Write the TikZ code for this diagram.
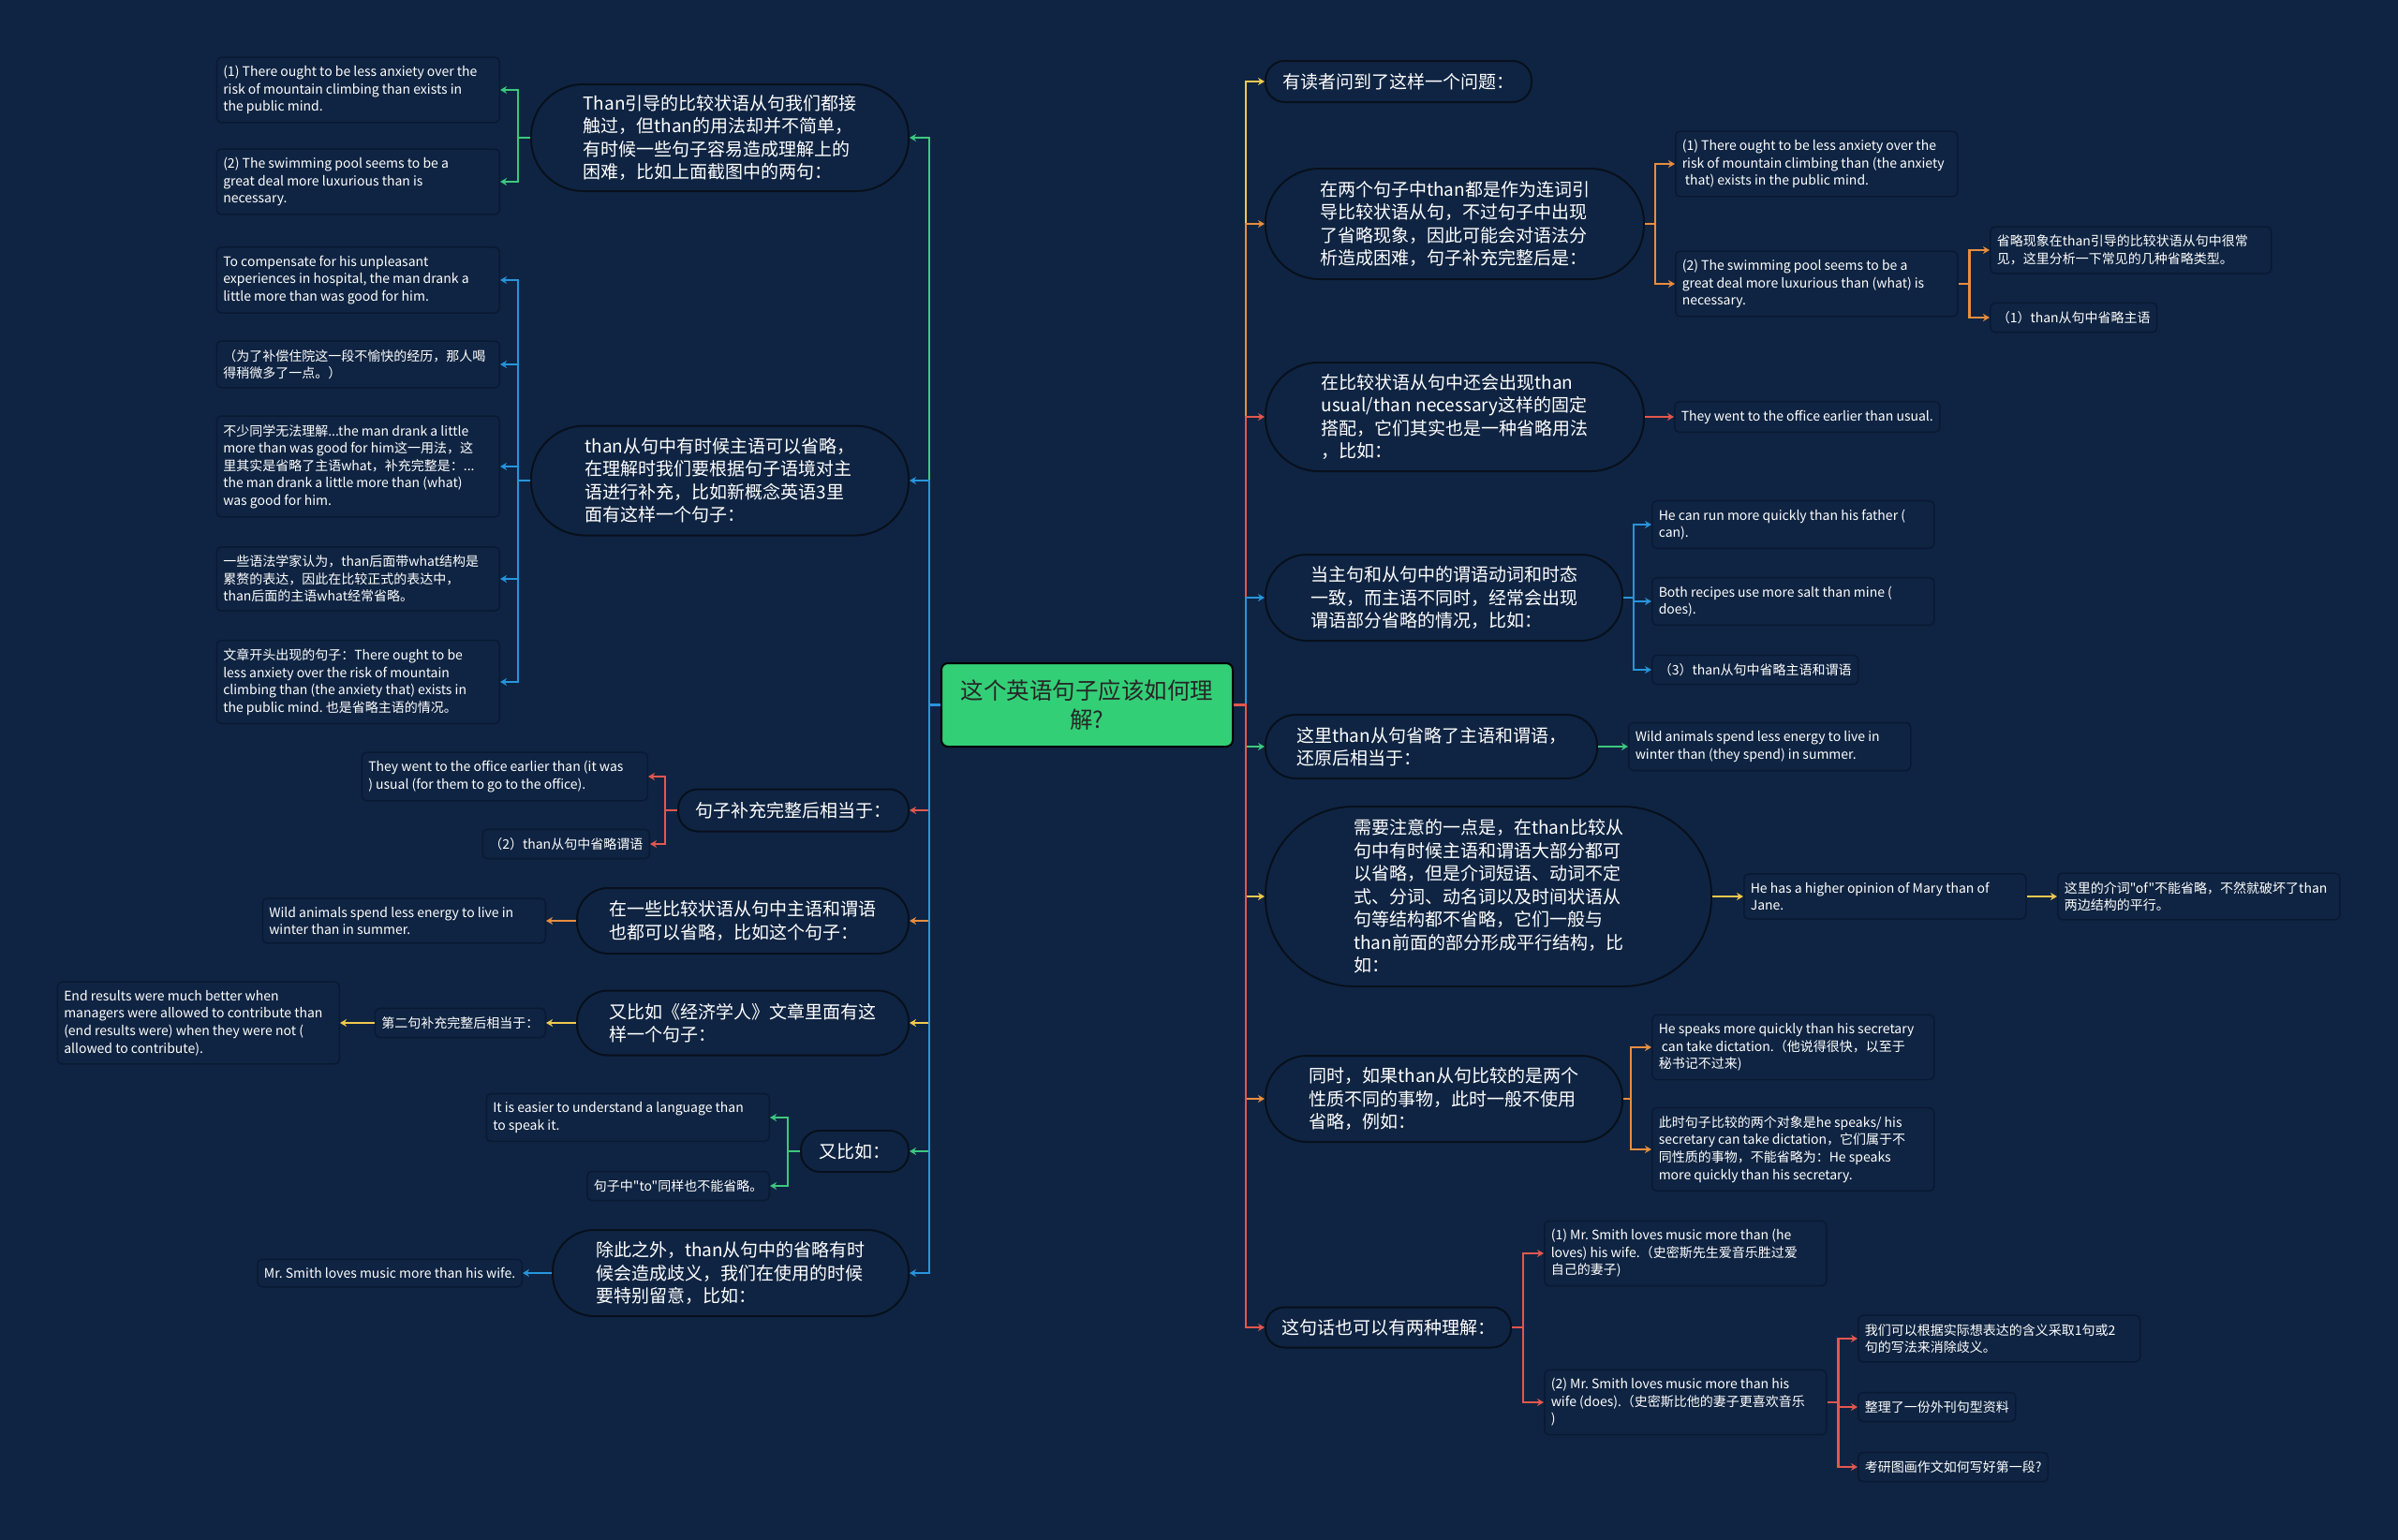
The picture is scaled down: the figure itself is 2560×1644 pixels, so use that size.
\documentclass[tikz,border=0pt]{standalone}
\usepackage{fontspec}
\newfontfamily\cjk{Noto Sans CJK SC}
\usetikzlibrary{arrows.meta}
\definecolor{bg}{HTML}{0F2442}
\definecolor{rootfill}{HTML}{33CF77}
\definecolor{cgreen}{HTML}{3CC87E}
\definecolor{cblue}{HTML}{2795DC}
\definecolor{cred}{HTML}{E5564C}
\definecolor{corange}{HTML}{E98D3E}
\definecolor{cyellow}{HTML}{F2C94C}
\definecolor{pillline}{HTML}{07101C}
\definecolor{boxline}{HTML}{081A33}

\begin{document}
\begin{tikzpicture}[x=1pt, y=-1pt,
  root/.style={draw=black, line width=2pt, fill=rootfill, rounded corners=7pt, text=black!85, font=\cjk\fontsize{24.5}{31}\selectfont, align=center, minimum width=311, minimum height=89, inner sep=0pt},
  pill/.style 2 args={draw=pillline, line width=2pt, fill=bg, text=white, font=\cjk\fontsize{19}{24.5}\selectfont, align=left, minimum width=#1, minimum height=#2, rounded corners=#2*0.5-1.5, inner sep=0pt},
  box/.style={draw=boxline, line width=1.5pt, fill=bg, text=white, font=\cjk\fontsize{14}{18.6}\selectfont\frenchspacing, align=flush left, rounded corners=5pt, inner xsep=7pt, inner ysep=9pt},
  leaf/.style={box, text width=#1},
  leaf/.default=288pt,
  link/.style={draw=#1, line width=2.4pt, -{Stealth[length=7pt,width=8pt]}}
]
\path[use as bounding box, fill=bg] (0,0) rectangle (2560,1644);

\node[root] (root) at (1160.5,752.5) {这个英语句子应该如何理\\解?};

% left side
\node[pill={403}{114}, anchor=east] (l1) at (971,147) {Than引导的比较状语从句我们都接\\触过，但than的用法却并不简单，\\有时候一些句子容易造成理解上的\\困难，比如上面截图中的两句：};
\node[leaf, anchor=east] (l1a) at (534,96) {(1) There ought to be less anxiety over the\\risk of mountain climbing than exists in\\the public mind.};
\node[leaf, anchor=east] (l1b) at (534,194) {(2) The swimming pool seems to be a\\great deal more luxurious than is\\necessary.};

\node[pill={403}{117}, anchor=east] (l2) at (971,513) {than从句中有时候主语可以省略，\\在理解时我们要根据句子语境对主\\语进行补充，比如新概念英语3里\\面有这样一个句子：};
\node[leaf, anchor=east] (l2a) at (534,299) {To compensate for his unpleasant\\experiences in hospital, the man drank a\\little more than was good for him.};
\node[leaf, anchor=east] (l2b) at (534,389) {（为了补偿住院这一段不愉快的经历，那人喝\\得稍微多了一点。）};
\node[leaf, anchor=east] (l2c) at (534,498) {不少同学无法理解...the man drank a little\\more than was good for him这一用法，这\\里其实是省略了主语what，补充完整是：...\\the man drank a little more than (what)\\was good for him.};
\node[leaf, anchor=east] (l2d) at (534,618) {一些语法学家认为，than后面带what结构是\\累赘的表达，因此在比较正式的表达中，\\than后面的主语what经常省略。};
\node[leaf, anchor=east] (l2e) at (534,728) {文章开头出现的句子：There ought to be\\less anxiety over the risk of mountain\\climbing than (the anxiety that) exists in\\the public mind. 也是省略主语的情况。};

\node[pill={246}{45}, anchor=east] (l3) at (971,865) {句子补充完整后相当于：};
\node[leaf=291pt, anchor=east] (l3a) at (692,829) {They went to the office earlier than (it was\\) usual (for them to go to the office).};
\node[box, anchor=east] (l3b) at (694,901) {（2）than从句中省略谓语};

\node[pill={354}{70}, anchor=east] (l4) at (971,983) {在一些比较状语从句中主语和谓语\\也都可以省略，比如这个句子：};
\node[leaf, anchor=east] (l4a) at (583,983) {Wild animals spend less energy to live in\\winter than in summer.};

\node[pill={354}{69}, anchor=east] (l5) at (971,1092) {又比如《经济学人》文章里面有这\\样一个句子：};
\node[box, anchor=east] (l5a) at (583,1092) {第二句补充完整后相当于：};
\node[leaf=287pt, anchor=east] (l5b) at (363,1092) {End results were much better when\\managers were allowed to contribute than\\(end results were) when they were not (\\allowed to contribute).};

\node[pill={115}{44}, anchor=east] (l6) at (971,1229) {又比如：};
\node[leaf, anchor=east] (l6a) at (822,1193) {It is easier to understand a language than\\to speak it.};
\node[box, anchor=east] (l6b) at (822,1266) {句子中"to"同样也不能省略。};

\node[pill={380}{92}, anchor=east] (l7) at (971,1359) {除此之外，than从句中的省略有时\\候会造成歧义，我们在使用的时候\\要特别留意，比如：};
\node[box, anchor=east] (l7a) at (558,1359) {Mr. Smith loves music more than his wife.};

% right side
\node[pill={284}{44}, anchor=west] (r1) at (1350,87) {有读者问到了这样一个问题：};

\node[pill={404}{118}, anchor=west] (r2) at (1350,239) {在两个句子中than都是作为连词引\\导比较状语从句，不过句子中出现\\了省略现象，因此可能会对语法分\\析造成困难，句子补充完整后是：};
\node[leaf=287pt, anchor=west] (r2a) at (1788,175) {(1) There ought to be less anxiety over the\\risk of mountain climbing than (the anxiety\\\ that) exists in the public mind.};
\node[leaf=287pt, anchor=west] (r2b) at (1788,303) {(2) The swimming pool seems to be a\\great deal more luxurious than (what) is\\necessary.};
\node[leaf=286pt, anchor=west] (r2b1) at (2124,267) {省略现象在than引导的比较状语从句中很常\\见，这里分析一下常见的几种省略类型。};
\node[box, anchor=west] (r2b2) at (2124,339) {（1）than从句中省略主语};

\node[pill={404}{116}, anchor=west] (r3) at (1350,445) {在比较状语从句中还会出现than\\usual/than necessary这样的固定\\搭配，它们其实也是一种省略用法\\，比如：};
\node[box, anchor=west] (r3a) at (1787,445) {They went to the office earlier than usual.};

\node[pill={381}{92}, anchor=west] (r4) at (1350,638) {当主句和从句中的谓语动词和时态\\一致，而主语不同时，经常会出现\\谓语部分省略的情况，比如：};
\node[leaf=287pt, anchor=west] (r4a) at (1763,560) {He can run more quickly than his father (\\can).};
\node[leaf=287pt, anchor=west] (r4b) at (1763,642) {Both recipes use more salt than mine (\\does).};
\node[box, anchor=west] (r4c) at (1763,715) {（3）than从句中省略主语和谓语};

\node[pill={354}{68}, anchor=west] (r5) at (1350,797) {这里than从句省略了主语和谓语，\\还原后相当于：};
\node[leaf=287pt, anchor=west] (r5a) at (1738,797) {Wild animals spend less energy to live in\\winter than (they spend) in summer.};

\node[pill={476}{192}, anchor=west] (r6) at (1350,957) {需要注意的一点是，在than比较从\\句中有时候主语和谓语大部分都可\\以省略，但是介词短语、动词不定\\式、分词、动名词以及时间状语从\\句等结构都不省略，它们一般与\\than前面的部分形成平行结构，比\\如：};
\node[leaf=287pt, anchor=west] (r6a) at (1861,957) {He has a higher opinion of Mary than of\\Jane.};
\node[leaf=287pt, anchor=west] (r6b) at (2196,957) {这里的介词"of"不能省略，不然就破坏了than\\两边结构的平行。};

\node[pill={381}{92}, anchor=west] (r7) at (1350,1173) {同时，如果than从句比较的是两个\\性质不同的事物，此时一般不使用\\省略，例如：};
\node[leaf=287pt, anchor=west] (r7a) at (1763,1118) {He speaks more quickly than his secretary\\\ can take dictation.（他说得很快，以至于\\秘书记不过来)};
\node[leaf=287pt, anchor=west] (r7b) at (1763,1227) {此时句子比较的两个对象是he speaks/ his\\secretary can take dictation，它们属于不\\同性质的事物，不能省略为：He speaks\\more quickly than his secretary.};

\node[pill={262}{43}, anchor=west] (r8) at (1350,1417) {这句话也可以有两种理解：};
\node[leaf=287pt, anchor=west] (r8a) at (1648,1338) {(1) Mr. Smith loves music more than (he\\loves) his wife.（史密斯先生爱音乐胜过爱\\自己的妻子)};
\node[leaf=287pt, anchor=west] (r8b) at (1648,1497) {(2) Mr. Smith loves music more than his\\wife (does).（史密斯比他的妻子更喜欢音乐\\)};
\node[leaf=287pt, anchor=west] (r8b1) at (1983,1429) {我们可以根据实际想表达的含义采取1句或2\\句的写法来消除歧义。};
\node[box, anchor=west] (r8b2) at (1983,1502) {整理了一份外刊句型资料};
\node[box, anchor=west] (r8b3) at (1983,1566) {考研图画作文如何写好第一段?};

% connectors, left
\draw[link=cgreen] (root.west) -- ++(-12,0) |- (l1.east);
\draw[link=cgreen] (l1.west) -- ++(-13,0) |- (l1a.east);
\draw[link=cgreen] (l1.west) -- ++(-13,0) |- (l1b.east);
\draw[link=cblue] (root.west) -- ++(-12,0) |- (l2.east);
\foreach \n in {l2a,l2b,l2c,l2d,l2e}
  \draw[link=cblue] (l2.west) -- ++(-13,0) |- (\n.east);
\draw[link=cred] (root.west) -- ++(-12,0) |- (l3.east);
\draw[link=cred] (l3.west) -- ++(-13,0) |- (l3a.east);
\draw[link=cred] (l3.west) -- ++(-13,0) |- (l3b.east);
\draw[link=corange] (root.west) -- ++(-12,0) |- (l4.east);
\draw[link=corange] (l4.west) -- (l4a.east);
\draw[link=cyellow] (root.west) -- ++(-12,0) |- (l5.east);
\draw[link=cyellow] (l5.west) -- (l5a.east);
\draw[link=cyellow] (l5a.west) -- (l5b.east);
\draw[link=cgreen] (root.west) -- ++(-12,0) |- (l6.east);
\draw[link=cgreen] (l6.west) -- ++(-13,0) |- (l6a.east);
\draw[link=cgreen] (l6.west) -- ++(-13,0) |- (l6b.east);
\draw[link=cblue] (root.west) -- ++(-12,0) |- (l7.east);
\draw[link=cblue] (l7.west) -- (l7a.east);

% connectors, right
\draw[link=cyellow] (root.east) -- ++(13,0) |- (r1.west);
\draw[link=corange] (root.east) -- ++(13,0) |- (r2.west);
\draw[link=corange] (r2.east) -- ++(11,0) |- (r2a.west);
\draw[link=corange] (r2.east) -- ++(11,0) |- (r2b.west);
\draw[link=corange] (r2b.east) -- ++(12,0) |- (r2b1.west);
\draw[link=corange] (r2b.east) -- ++(12,0) |- (r2b2.west);
\draw[link=cred] (root.east) -- ++(13,0) |- (r3.west);
\draw[link=cred] (r3.east) -- (r3a.west);
\draw[link=cblue] (root.east) -- ++(13,0) |- (r4.west);
\foreach \n in {r4a,r4b,r4c}
  \draw[link=cblue] (r4.east) -- ++(11,0) |- (\n.west);
\draw[link=cgreen] (root.east) -- ++(13,0) |- (r5.west);
\draw[link=cgreen] (r5.east) -- (r5a.west);
\draw[link=cyellow] (root.east) -- ++(13,0) |- (r6.west);
\draw[link=cyellow] (r6.east) -- (r6a.west);
\draw[link=cyellow] (r6a.east) -- (r6b.west);
\draw[link=corange] (root.east) -- ++(13,0) |- (r7.west);
\draw[link=corange] (r7.east) -- ++(8,0) |- (r7a.west);
\draw[link=corange] (r7.east) -- ++(8,0) |- (r7b.west);
\draw[link=cred] (root.east) -- ++(13,0) |- (r8.west);
\draw[link=cred] (r8.east) -- ++(12,0) |- (r8a.west);
\draw[link=cred] (r8.east) -- ++(12,0) |- (r8b.west);
\foreach \n in {r8b1,r8b2,r8b3}
  \draw[link=cred] (r8b.east) -- ++(12,0) |- (\n.west);
\end{tikzpicture}
\end{document}
